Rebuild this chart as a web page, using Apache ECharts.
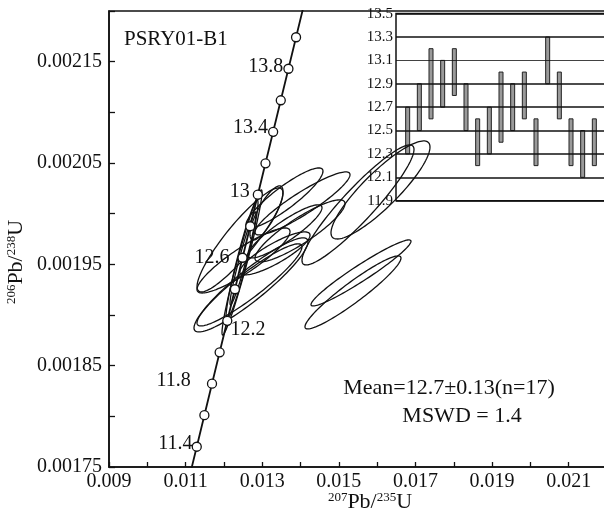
<!DOCTYPE html>
<html>
<head>
<meta charset="utf-8">
<script src="https://cdn.jsdelivr.net/npm/echarts@6/dist/echarts.min.js"></script>
<style>
  html, body { margin: 0; padding: 0; background: #fff; }
  #chart { width: 604px; height: 515px; }
</style>
</head>
<body>
<div id="chart"></div>
<script>
// concordia points (age in Ma, 207Pb/235U, 206Pb/238U)
var concAges = [11.2, 11.4, 11.6, 11.8, 12.0, 12.2, 12.4, 12.6, 12.8, 13.0, 13.2, 13.4, 13.6, 13.8, 14.0, 14.2];
var concX = [0.011091, 0.011291, 0.011490, 0.011689, 0.011888, 0.012088, 0.012287, 0.012486,
             0.012686, 0.012885, 0.013085, 0.013285, 0.013484, 0.013684, 0.013883, 0.014083];
var concY = [0.0017389, 0.0017700, 0.0018011, 0.0018322, 0.0018632, 0.0018943, 0.0019254, 0.0019565,
             0.0019876, 0.0020187, 0.0020497, 0.0020808, 0.0021119, 0.0021430, 0.0021741, 0.0022052];
var labelAges = [11.4, 11.8, 12.2, 12.6, 13, 13.4, 13.8];

// error ellipses: centre, half extents, correlation
var ellX  = [0.015578, 0.015369, 0.016087, 0.015500, 0.012707, 0.012667, 0.012420, 0.013581, 0.014051,
             0.013333, 0.012472, 0.012472, 0.012498, 0.013111, 0.012511, 0.013986, 0.013594];
var ellY  = [0.0019415, 0.0019223, 0.0020234, 0.0020086, 0.0019297, 0.0019297, 0.0019741, 0.0020155, 0.0020101,
             0.0019608, 0.0019519, 0.0019543, 0.0019558, 0.0020007, 0.0019538, 0.0019830, 0.0019825];
var ellSx = [0.001305, 0.001253, 0.001292, 0.001462, 0.001488, 0.001370, 0.001122, 0.001005, 0.001240,
             0.000914, 0.000522, 0.000418, 0.000339, 0.000431, 0.001214, 0.001175, 0.000966];
var ellSy = [0.0000326, 0.0000360, 0.0000484, 0.0000592, 0.0000464, 0.0000405, 0.0000513, 0.0000296, 0.0000311,
             0.0000212, 0.0000716, 0.0000592, 0.0000459, 0.0000267, 0.0000321, 0.0000306, 0.0000262];
var ellRho = [0.958, 0.941, 0.874, 0.924, 0.914, 0.925, 0.897, 0.892, 0.912,
              0.848, 0.966, 0.947, 0.960, 0.790, 0.889, 0.879, 0.892];

// inset: age ranges of the 17 spots
var barLow  = [12.3, 12.5, 12.6, 12.7, 12.8, 12.5, 12.2, 12.3, 12.4, 12.5, 12.6, 12.2, 12.9, 12.6, 12.2, 12.1, 12.2];
var barHigh = [12.7, 12.9, 13.2, 13.1, 13.2, 12.9, 12.6, 12.7, 13.0, 12.9, 13.0, 12.6, 13.3, 13.0, 12.6, 12.5, 12.6];
var insetTicks = [11.9, 12.1, 12.3, 12.5, 12.7, 12.9, 13.1, 13.3, 13.5];

var FONT = "'Liberation Serif', 'Times New Roman', serif";
var INK = '#111';

var concLine = concX.map(function (x, i) { return [x, concY[i]]; });

// label placement per labelled age
var labelPos = {
  '11.4': { position: 'left', distance: -1, offset: [0, -3] },
  '11.8': { position: 'left', distance: 16, offset: [0, -3] },
  '12.2': { position: 'right', distance: -2, offset: [0, 9] },
  '12.6': { position: 'left', distance: 8, offset: [0, 0] },
  '13':   { position: 'left', distance: 3, offset: [0, -3] },
  '13.4': { position: 'left', distance: 0, offset: [0, -4] },
  '13.8': { position: 'left', distance: 0, offset: [0, -2] }
};

var markers = [];
concAges.forEach(function (a, i) {
  if (i === 0 || i === concAges.length - 1) return;
  var item = { value: [concX[i], concY[i]] };
  var key = String(a);
  if (labelAges.indexOf(a) >= 0) {
    var lp = labelPos[key];
    item.label = {
      show: true, position: lp.position, distance: lp.distance, offset: lp.offset,
      formatter: key, fontFamily: FONT, fontSize: 20, color: INK
    };
  }
  markers.push(item);
});

var ellipses = ellX.map(function (x, i) { return [x, ellY[i], ellSx[i], ellSy[i], ellRho[i]]; });
var bars = barLow.map(function (lo, i) { return [i + 1, lo, barHigh[i]]; });

function renderEllipse(params, api) {
  var cx = api.value(0), cy = api.value(1), sx = api.value(2), sy = api.value(3), r = api.value(4);
  var k = Math.sqrt(1 - r * r);
  var pts = [];
  for (var i = 0; i < 120; i++) {
    var t = i / 120 * Math.PI * 2;
    pts.push(api.coord([cx + sx * Math.cos(t), cy + sy * (r * Math.cos(t) + k * Math.sin(t))]));
  }
  return {
    type: 'polygon',
    shape: { points: pts },
    style: { fill: 'none', stroke: INK, lineWidth: 1.3 }
  };
}

function renderBar(params, api) {
  var top = api.coord([api.value(0), api.value(2)]);
  var bot = api.coord([api.value(0), api.value(1)]);
  return {
    type: 'rect',
    shape: { x: top[0] - 2, y: top[1], width: 4, height: bot[1] - top[1] },
    style: { fill: '#9a9a9a', stroke: '#222', lineWidth: 1 }
  };
}

var chart = echarts.init(document.getElementById('chart'));
chart.setOption({
  animation: false,
  backgroundColor: '#fff',
  grid: [
    { left: 109, top: 11, width: 498, height: 456, outerBoundsMode: 'none',
      show: true, borderColor: INK, borderWidth: 1.5 },
    { left: 396, top: 13.6, width: 210, height: 187.1, outerBoundsMode: 'none',
      show: true, borderColor: INK, borderWidth: 1.5, z: 1 }
  ],
  xAxis: [
    {
      gridIndex: 0, type: 'value', min: 0.009, max: 0.022, interval: 0.001,
      axisLine: { lineStyle: { color: INK, width: 1.6 } },
      axisTick: { inside: true, length: 5, lineStyle: { color: INK, width: 1.3 } },
      splitLine: { show: false },
      axisLabel: {
        margin: 5, color: INK, fontFamily: FONT, fontSize: 20,
        formatter: function (v) {
          return Math.round(v * 1000) % 2 === 1 ? v.toFixed(3) : '';
        }
      }
    },
    { gridIndex: 1, type: 'value', min: 0, max: 18, show: false }
  ],
  yAxis: [
    {
      gridIndex: 0, type: 'value', min: 0.00175, max: 0.0022, interval: 0.00005,
      axisLine: { lineStyle: { color: INK, width: 1.6 } },
      axisTick: { inside: true, length: 6, lineStyle: { color: INK, width: 1.3 } },
      splitLine: { show: false },
      axisLabel: {
        margin: 7, color: INK, fontFamily: FONT, fontSize: 20,
        formatter: function (v) {
          return Math.round(v * 100000) % 10 === 5 ? v.toFixed(5) : '';
        }
      }
    },
    { gridIndex: 1, type: 'value', min: 11.9, max: 13.5, show: false }
  ],
  series: [
    {
      type: 'custom', xAxisIndex: 1, yAxisIndex: 1, z: 1,
      renderItem: renderBar, data: bars, silent: true,
      markLine: {
        silent: true, symbol: ['none', 'none'],
        lineStyle: { color: INK, width: 1.6, type: 'solid' },
        label: {
          position: 'start', distance: 3, color: INK, fontFamily: FONT, fontSize: 15,
          formatter: function (p) { return p.value.toFixed(1); }
        },
        emphasis: { disabled: true },
        data: insetTicks.map(function (v) {
          var d = { yAxis: v };
          if (v === 13.1) d.lineStyle = { width: 0.8 };
          return d;
        })
      }
    },
    {
      type: 'custom', xAxisIndex: 0, yAxisIndex: 0, z: 3,
      renderItem: renderEllipse, data: ellipses, silent: true, clip: true
    },
    {
      type: 'line', xAxisIndex: 0, yAxisIndex: 0, z: 4,
      data: concLine, showSymbol: false, symbol: 'none', clip: true, silent: true,
      lineStyle: { color: INK, width: 1.8 }
    },
    {
      type: 'scatter', xAxisIndex: 0, yAxisIndex: 0, z: 5,
      data: markers, symbol: 'circle', symbolSize: 9, silent: true,
      itemStyle: { color: '#fff', borderColor: INK, borderWidth: 1.3, opacity: 1 }
    }
  ],
  graphic: [
    {
      type: 'text', left: 124, top: 29, z: 10,
      style: { text: 'PSRY01-B1', fontFamily: FONT, fontSize: 21, fill: INK }
    },
    {
      type: 'text', x: 449, y: 388, z: 10,
      style: { text: 'Mean=12.7\u00b10.13(n=17)', fontFamily: FONT, fontSize: 22, fill: INK,
               align: 'center', verticalAlign: 'middle' }
    },
    {
      type: 'text', x: 462, y: 416, z: 10,
      style: { text: 'MSWD = 1.4', fontFamily: FONT, fontSize: 22, fill: INK,
               align: 'center', verticalAlign: 'middle' }
    },
    {
      type: 'text', x: 370, y: 502, z: 10,
      style: {
        text: '{s|207}{n|Pb/}{s|235}{n|U}', align: 'center', verticalAlign: 'middle',
        rich: {
          s: { fontFamily: FONT, fontSize: 13, verticalAlign: 'top', fill: INK },
          n: { fontFamily: FONT, fontSize: 22, fill: INK }
        }
      }
    },
    {
      type: 'text', x: 16, y: 262, rotation: Math.PI / 2, z: 10,
      style: {
        text: '{s|206}{n|Pb/}{s|238}{n|U}', align: 'center', verticalAlign: 'middle',
        rich: {
          s: { fontFamily: FONT, fontSize: 13, verticalAlign: 'top', fill: INK },
          n: { fontFamily: FONT, fontSize: 22, fill: INK }
        }
      }
    }
  ]
});
</script>
</body>
</html>
